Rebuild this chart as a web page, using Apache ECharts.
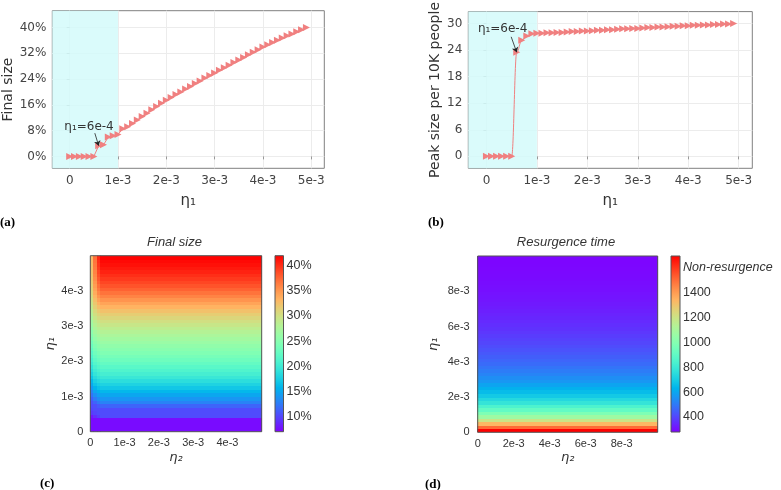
<!DOCTYPE html>
<html><head><meta charset="utf-8">
<script src="https://cdn.jsdelivr.net/npm/echarts@6/dist/echarts.min.js"></script>
<style>html,body{margin:0;padding:0;background:#fff}#c{width:781px;height:490px}</style>
</head><body><div id="c"></div>
<script>
// ---------- data: panels (a) and (b) ----------
const eta1 = [0,0.0001,0.0002,0.0003,0.0004,0.0005,0.0006,0.0007,0.0008,0.0009,
  0.001,0.0011,0.0012,0.0013,0.0014,0.0015,0.0016,0.0017,0.0018,0.0019,
  0.002,0.0021,0.0022,0.0023,0.0024,0.0025,0.0026,0.0027,0.0028,0.0029,
  0.003,0.0031,0.0032,0.0033,0.0034,0.0035,0.0036,0.0037,0.0038,0.0039,
  0.004,0.0041,0.0042,0.0043,0.0044,0.0045,0.0046,0.0047,0.0048,0.0049];
const finalSize = [0,0,0,0,0,0,3.3,3.6,6.0,6.4,
  6.8,8.6,9.2,10.2,11.3,12.4,13.4,14.5,15.5,16.5,
  17.4,18.3,19.2,20.0,20.9,21.7,22.6,23.4,24.3,25.1,
  25.9,26.7,27.5,28.3,29.1,29.9,30.7,31.5,32.3,33.1,
  33.9,34.6,35.3,36.0,36.7,37.4,38.0,38.7,39.3,40.0];
const peakSize = [0,0,0,0,0,0,23.5,26.2,27.2,27.7,
  27.8,27.8,27.9,27.9,28.0,28.0,28.1,28.2,28.2,28.3,
  28.3,28.4,28.5,28.5,28.6,28.6,28.7,28.8,28.8,28.9,
  28.9,29.0,29.1,29.1,29.2,29.2,29.3,29.4,29.4,29.5,
  29.5,29.6,29.6,29.7,29.7,29.8,29.8,29.9,29.9,30.0];
const xTicksAB = [0,0.001,0.002,0.003,0.004,0.005];
const finalTicks = [0,8,16,24,32,40];
const peakTicks = [0,6,12,18,24,30];
const shadeEnd = 0.001;
const annotText = 'η₁=6e-4';
const annotA = {text:[0.00040, 9.1], from:[0.00052, 7.2], to:[0.0006, 3.3]};
const annotB = {text:[0.00032, 28.8], from:[0.00049, 27.0], to:[0.0006, 23.5]};

// ---------- data: panel (c) final size heatmap ----------
const finalEta2Edges = [0,0.0001,0.0002,0.0003,0.005];
const finalEta1Edges = eta1.concat([0.005]);
const finalSizeGrid = [
 [7.5,7.5,7.5,7.5],[7.5,7.5,7.5,7.5],[7.5,7.5,7.5,7.5],[7.5,7.5,7.5,7.5],
 [8.0,9.0,9.8,10.3],[9.5,10.0,10.3,10.3],[10.0,10.3,10.3,10.3],[10.3,10.5,11.0,11.5],
 [10.6,11.5,12.4,13.0],[11.3,12.6,13.5,14.0],[12.2,13.7,14.5,15.0],[13.2,14.8,15.6,16.0],
 [14.2,15.8,16.6,17.0],[15.1,16.8,17.5,17.9],[16.0,17.7,18.4,18.8],[16.9,18.6,19.3,19.7],
 [17.7,19.4,20.1,20.5],[18.5,20.1,20.8,21.2],[19.2,20.8,21.5,21.9],[19.9,21.5,22.2,22.6],
 [20.6,22.2,22.9,23.3],[21.2,22.8,23.5,23.9],[21.8,23.4,24.1,24.5],[22.4,24.0,24.7,25.1],
 [23.0,24.6,25.3,25.7],[23.6,25.2,25.9,26.3],[24.2,25.8,26.5,26.9],[24.8,26.4,27.1,27.5],
 [25.3,27.0,27.7,28.1],[25.9,27.6,28.3,28.7],[26.5,28.2,29.0,29.4],[27.0,28.8,29.6,30.1],
 [27.6,29.4,30.3,30.8],[28.1,30.1,31.0,31.6],[28.6,30.7,31.8,32.4],[29.1,31.4,32.6,33.3],
 [29.6,32.0,33.4,34.2],[30.0,32.6,34.2,35.1],[30.4,33.2,35.0,36.0],[30.8,33.7,35.7,36.8],
 [31.1,34.2,36.4,37.6],[31.4,34.6,37.0,38.3],[31.7,35.0,37.6,38.9],[31.9,35.4,38.1,39.5],
 [32.1,35.7,38.6,40.0],[32.3,36.0,39.0,40.5],[32.5,36.3,39.4,40.9],[32.6,36.5,39.7,41.3],
 [32.7,36.7,40.0,41.6],[32.8,36.9,40.3,41.9]];
const finalColorRange = [7, 42];
const finalColorTicks = [10,15,20,25,30,35,40];

// ---------- data: panel (d) resurgence time heatmap ----------
const resEta2Range = [0, 0.01];
const resEta1Edges = [0,0.0002,0.0004,0.0006,0.0008,0.001,0.0012,0.0014,0.0016,0.0018,
  0.002,0.0022,0.0024,0.0026,0.0028,0.003,0.0032,0.0034,0.0036,0.0038,
  0.004,0.0042,0.0044,0.0046,0.0048,0.005,0.0052,0.0054,0.0056,0.0058,
  0.006,0.0062,0.0064,0.0066,0.0068,0.007,0.0072,0.0074,0.0076,0.0078,
  0.008,0.0082,0.0084,0.0086,0.0088,0.009,0.0092,0.0094,0.0096,0.0098,0.01];
const resurgenceTime = [1690,1500,1330,1190,1070,980,905,845,780,735,
  690,655,625,595,565,545,525,508,492,475,
  462,450,438,427,416,405,395,386,377,369,
  361,354,347,341,335,329,324,319,315,311,
  307,304,301,298,296,294,292,290,289,288];
const resColorRange = [280, 1690];
const resColorTicks = [400,600,800,1000,1200,1400,1600];
const nonResurgenceTick = 1600;

// ---------- helpers ----------
function rainbow(t){
  const r=Math.min(1,Math.abs(2*t-0.5)), g=Math.sin(Math.PI*t), b=Math.cos(Math.PI*t/2);
  const h=v=>Math.round(Math.max(0,Math.min(1,v))*255);
  return 'rgb('+h(r)+','+h(g)+','+h(b)+')';
}
const NSTOP=21;
const rainbowColors=[]; for(let i=0;i<NSTOP;i++) rainbowColors.push(rainbow(i/(NSTOP-1)));
const rainbowStops=rainbowColors.map((c,i)=>({offset:i/(NSTOP-1), color:c}));
const fmtE = v => Math.abs(v)<1e-12 ? '0' : Math.round(v*1000)+'e-3';

const C_MARK='#f08080';
const abXmin=-0.00036, abXmax=0.00527;

const heatC=[];
for(let k=0;k<finalSizeGrid.length;k++) for(let j=0;j<4;j++)
  heatC.push([finalEta2Edges[j],finalEta2Edges[j+1],finalEta1Edges[k],finalEta1Edges[k+1],finalSizeGrid[k][j]]);
const heatD=[];
for(let k=0;k<resurgenceTime.length;k++)
  heatD.push([resEta2Range[0],resEta2Range[1],resEta1Edges[k],resEta1Edges[k+1],resurgenceTime[k]]);

function rectItem(params, api){
  const p0=api.coord([api.value(0),api.value(2)]);
  const p1=api.coord([api.value(1),api.value(3)]);
  const x0=Math.floor(p0[0]), x1=Math.ceil(p1[0]);
  const yTop=Math.floor(p1[1]), yBot=Math.ceil(p0[1]);
  return {type:'rect', shape:{x:x0, y:yTop, width:x1-x0, height:yBot-yTop},
    style:{fill:api.visual('color'), stroke:null}};
}
function cbarItem(range){
  return function(params, api){
    const p0=api.coord([0,range[0]]), p1=api.coord([1,range[1]]);
    return {type:'rect', shape:{x:p0[0], y:p1[1], width:p1[0]-p0[0], height:p0[1]-p1[1]},
      style:{fill:{type:'linear',x:0,y:1,x2:0,y2:0,colorStops:rainbowStops}, stroke:'#555', lineWidth:1}};
  };
}

const abAxisLabel = {fontFamily:'DejaVu Sans', fontSize:12, color:'#444'};
const abName = {fontFamily:'DejaVu Sans', fontSize:14, color:'#333'};
const cdLabel = {fontFamily:'Liberation Sans', fontSize:11, color:'#333'};
const cdName = {fontFamily:'DejaVu Sans', fontSize:13, fontStyle:'italic', color:'#333'};

function abX(gi){
  return {gridIndex:gi, type:'value', min:abXmin, max:abXmax,
    axisLine:{show:false},
    axisTick:{show:true, length:3, customValues:xTicksAB, lineStyle:{color:'#999'}},
    axisLabel:Object.assign({customValues:xTicksAB, formatter:fmtE, margin:7}, abAxisLabel),
    splitLine:{show:true, lineStyle:{color:'#ececec', width:1}},
    name:'η₁', nameLocation:'middle', nameGap:25, nameTextStyle:Object.assign({}, abName, {fontSize:15})};
}
function abY(gi, min, max, ticks, fmt, name, gap){
  return {gridIndex:gi, type:'value', min:min, max:max,
    axisLine:{show:false},
    axisTick:{show:true, length:3, customValues:ticks, lineStyle:{color:'#999'}},
    axisLabel:Object.assign({customValues:ticks, formatter:fmt, margin:6}, abAxisLabel),
    splitLine:{show:true, lineStyle:{color:'#ececec', width:1}},
    name:name, nameLocation:'middle', nameGap:gap, nameTextStyle:abName};
}
function cdAxis(gi, max, interval, name, gap, margin){
  return {gridIndex:gi, type:'value', min:0, max:max, interval:interval,
    axisLine:{show:false}, axisTick:{show:false}, splitLine:{show:false},
    axisLabel:Object.assign({formatter:fmtE, showMaxLabel:false, margin:margin}, cdLabel),
    name:name, nameLocation:'middle', nameGap:gap, nameTextStyle:cdName};
}
function lineSeries(xi, values, annot, smooth){
  return {type:'line', xAxisIndex:xi, yAxisIndex:xi,
    data:eta1.map((x,i)=>[x,values[i]]),
    symbol:'triangle', symbolSize:7, symbolRotate:-90, smooth:smooth, smoothMonotone:'x',
    itemStyle:{color:C_MARK}, lineStyle:{color:C_MARK, width:1}, z:3,
    markArea:{silent:true, itemStyle:{color:'#d4fafa', opacity:0.85},
      data:[[{xAxis:abXmin},{xAxis:shadeEnd}]]},
    markLine:{silent:true, symbol:['none','arrow'], symbolSize:5, animation:false,
      lineStyle:{color:'#222', width:0.8, type:'solid'}, label:{show:false},
      data:[[{coord:annot.from},{coord:annot.to}]]},
    markPoint:{silent:true, symbol:'circle', symbolSize:0,
      label:{show:true, position:'inside', formatter:annotText, fontFamily:'DejaVu Sans', fontSize:12, color:'#333'},
      data:[{coord:annot.text}]}
  };
}

const option = {
  animation:false,
  backgroundColor:'#fff',
  grid:[
    {left:52.3, top:10.7, width:272, height:157.6, show:true, borderColor:'#808080', borderWidth:1},
    {left:468.3, top:10.7, width:284, height:157.6, show:true, borderColor:'#808080', borderWidth:1},
    {left:90.3, top:255.7, width:171.4, height:176, show:true, borderColor:'#555', borderWidth:1, z:5},
    {left:275, top:255.7, width:8.5, height:176},
    {left:477.7, top:256, width:180, height:176.3, show:true, borderColor:'#555', borderWidth:1, z:5},
    {left:671, top:256, width:9, height:176}
  ],
  xAxis:[
    abX(0), abX(1),
    cdAxis(2, 0.005, 0.001, 'η₂', 19, 6),
    {gridIndex:3, type:'value', min:0, max:1, show:false},
    cdAxis(4, 0.01, 0.002, 'η₂', 19, 6),
    {gridIndex:5, type:'value', min:0, max:1, show:false}
  ],
  yAxis:[
    abY(0, -3.7, 45.2, finalTicks, v=>v+'%', 'Final size', 36),
    abY(1, -2.7, 32.7, peakTicks, v=>String(v), 'Peak size per 10K people', 26),
    cdAxis(2, 0.005, 0.001, 'η₁', 32, 7),
    {gridIndex:3, type:'value', min:finalColorRange[0], max:finalColorRange[1], position:'right',
      axisLine:{show:false}, axisTick:{show:false}, splitLine:{show:false},
      axisLabel:Object.assign({customValues:finalColorTicks, formatter:v=>v+'%', margin:3}, cdLabel, {fontSize:12.5})},
    cdAxis(4, 0.01, 0.002, 'η₁', 38, 8),
    {gridIndex:5, type:'value', min:resColorRange[0], max:resColorRange[1], position:'right',
      axisLine:{show:false}, axisTick:{show:false}, splitLine:{show:false},
      axisLabel:Object.assign({customValues:resColorTicks, margin:3,
        formatter:v=>v===nonResurgenceTick?'{i|Non-resurgence}':String(v),
        rich:{i:{fontStyle:'italic', fontFamily:'Liberation Sans', fontSize:12.5, color:'#333'}}}, cdLabel, {fontSize:12.5})}
  ],
  visualMap:[
    {show:false, type:'continuous', seriesIndex:2, dimension:4, min:finalColorRange[0], max:finalColorRange[1], inRange:{color:rainbowColors}},
    {show:false, type:'continuous', seriesIndex:4, dimension:4, min:resColorRange[0], max:resColorRange[1], inRange:{color:rainbowColors}}
  ],
  series:[
    lineSeries(0, finalSize, annotA, false),
    lineSeries(1, peakSize, annotB, 0.4),
    {type:'custom', xAxisIndex:2, yAxisIndex:2, data:heatC, renderItem:rectItem, clip:true, z:1},
    {type:'custom', xAxisIndex:3, yAxisIndex:3, data:[[0,0]], renderItem:cbarItem(finalColorRange)},
    {type:'custom', xAxisIndex:4, yAxisIndex:4, data:heatD, renderItem:rectItem, clip:true, z:1},
    {type:'custom', xAxisIndex:5, yAxisIndex:5, data:[[0,0]], renderItem:cbarItem(resColorRange)}
  ],
  graphic:[
    {type:'text', x:0, y:222.7, style:{text:'(a)', font:'bold 13px "Liberation Serif"', fill:'#000', verticalAlign:'middle', textVerticalAlign:'middle'}},
    {type:'text', x:428, y:222.7, style:{text:'(b)', font:'bold 13px "Liberation Serif"', fill:'#000', verticalAlign:'middle', textVerticalAlign:'middle'}},
    {type:'text', x:40, y:484, style:{text:'(c)', font:'bold 13px "Liberation Serif"', fill:'#000', verticalAlign:'middle', textVerticalAlign:'middle'}},
    {type:'text', x:425, y:485, style:{text:'(d)', font:'bold 13px "Liberation Serif"', fill:'#000', verticalAlign:'middle', textVerticalAlign:'middle'}},
    {type:'text', x:174.5, y:242, style:{text:'Final size', font:'italic 13px "Liberation Sans"', fill:'#333', align:'center', textAlign:'center', verticalAlign:'middle', textVerticalAlign:'middle'}},
    {type:'text', x:566, y:242, style:{text:'Resurgence time', font:'italic 13px "Liberation Sans"', fill:'#333', align:'center', textAlign:'center', verticalAlign:'middle', textVerticalAlign:'middle'}}
  ]
};
const chart = echarts.init(document.getElementById('c'), null, {renderer:'canvas'});
chart.setOption(option);
</script></body></html>
